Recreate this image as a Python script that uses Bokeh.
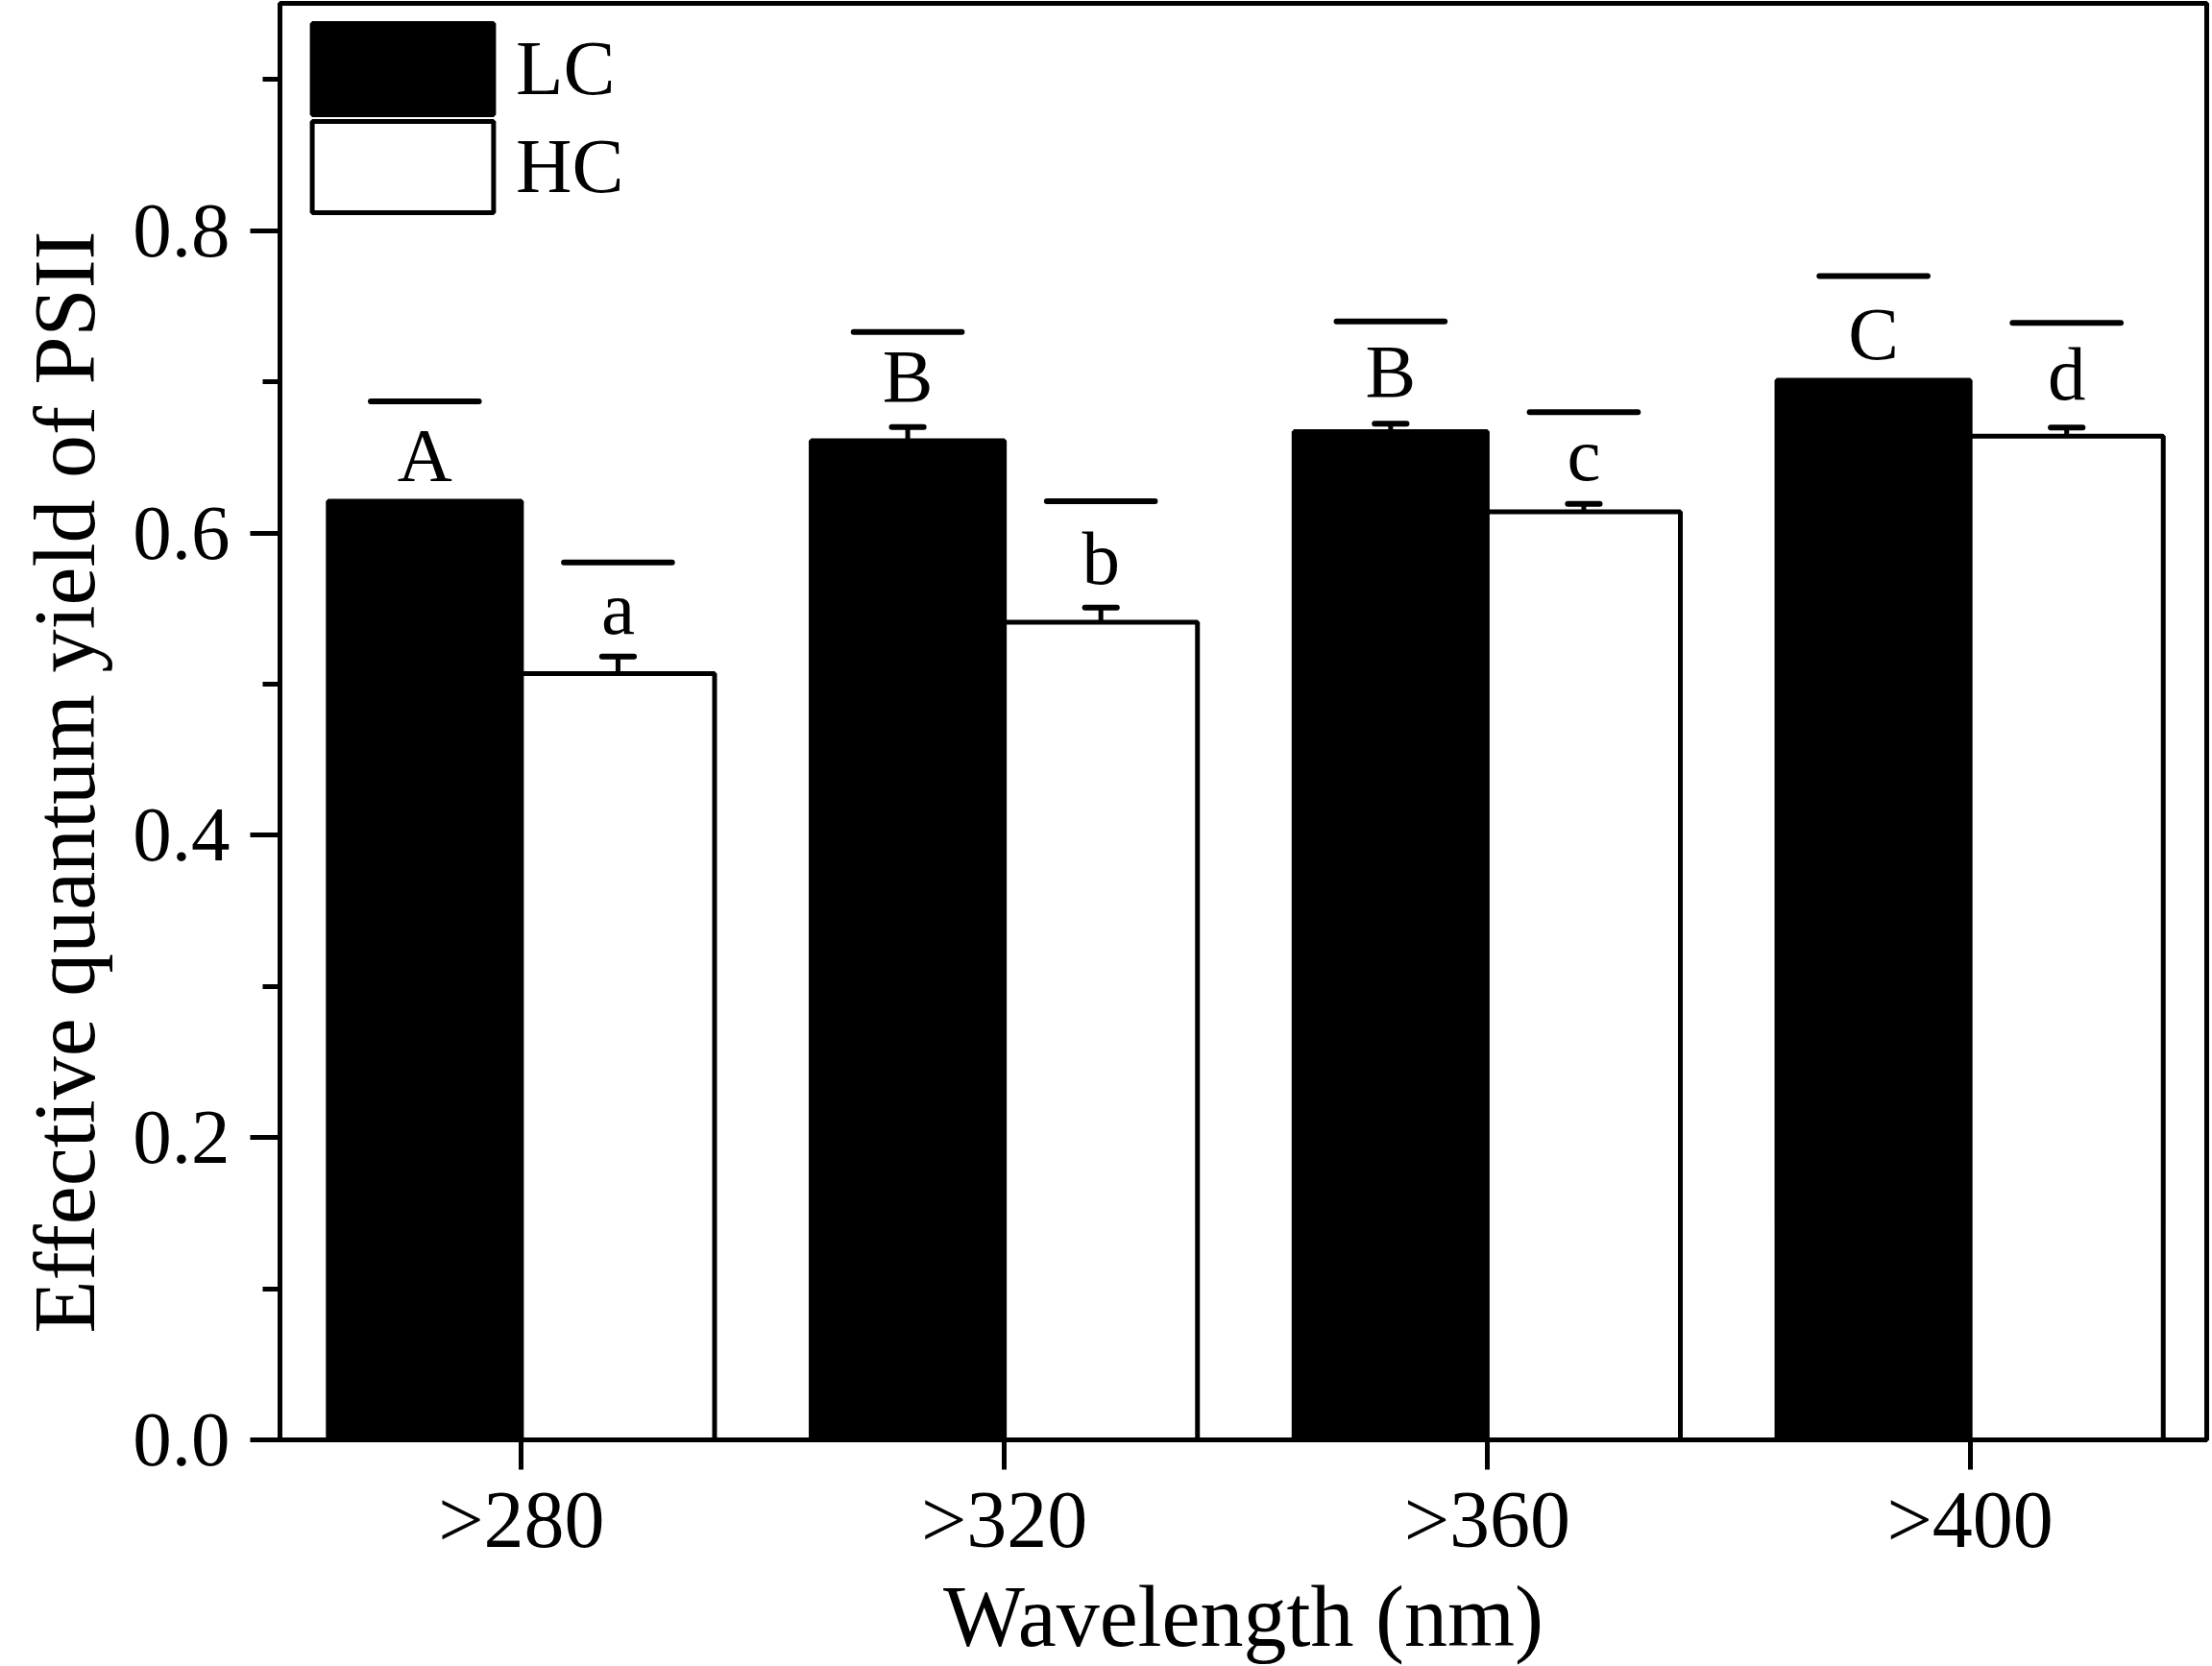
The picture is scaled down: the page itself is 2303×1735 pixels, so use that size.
from bokeh.plotting import figure
from bokeh.models import (ColumnDataSource, Range1d, FixedTicker, SingleIntervalTicker,
                          PrintfTickFormatter, Legend, LegendItem, Title)
from bokeh.embed import file_html
from bokeh.resources import INLINE
from bokeh.core.properties import value

# ---------------- data ----------------
categories = [">280", ">320", ">360", ">400"]
lc_values = [0.621, 0.661, 0.667, 0.701]
hc_values = [0.507, 0.541, 0.614, 0.664]
lc_errors = [0.0, 0.009, 0.0053, 0.0]
hc_errors = [0.0112, 0.0096, 0.0053, 0.0057]
lc_letters = ["A", "B", "B", "C"]
hc_letters = ["a", "b", "c", "d"]
lc_letter_y = [0.652, 0.704, 0.707, 0.732]
hc_letter_y = [0.550, 0.583, 0.652, 0.705]
lc_line_y = [0.687, 0.733, 0.740, 0.770]
hc_line_y = [0.5805, 0.621, 0.680, 0.739]

FONT = "Liberation Serif"
OFF = 0.2      # bar offset from group center
BW = 0.4       # bar width
HALF_LINE = 0.112
HALF_CAP = 0.033

idx = list(range(len(categories)))
lc_x = [i - OFF for i in idx]
hc_x = [i + OFF for i in idx]

p = figure(width=2303, height=1735, output_backend="svg", toolbar_location=None,
           x_range=Range1d(-0.5, 3.49), y_range=Range1d(0, 0.9504),
           min_border_left=289, min_border_right=6, min_border_top=3,
           min_border_bottom=234)
p.grid.visible = False
p.outline_line_color = "black"
p.outline_line_width = 5
p.background_fill_color = "white"
p.border_fill_color = "white"

lc_src = ColumnDataSource(dict(x=lc_x, top=lc_values))
hc_src = ColumnDataSource(dict(x=hc_x, top=hc_values))
r_lc = p.vbar(x="x", top="top", bottom=0, width=BW, source=lc_src,
              fill_color="black", line_color="black", line_width=5)
r_hc = p.vbar(x="x", top="top", bottom=0, width=BW, source=hc_src,
              fill_color="white", line_color="black", line_width=5)

# error bars (upper only)
ex, ey0, ey1 = [], [], []
for xs, vs, es in ((lc_x, lc_values, lc_errors), (hc_x, hc_values, hc_errors)):
    for x, v, e in zip(xs, vs, es):
        if e > 0:
            ex.append(x); ey0.append(v); ey1.append(v + e)
err_src = ColumnDataSource(dict(x=ex, y0=ey0, y1=ey1,
                                xl=[x - HALF_CAP for x in ex], xr=[x + HALF_CAP for x in ex]))
p.segment(x0="x", y0="y0", x1="x", y1="y1", source=err_src, line_color="black", line_width=5)
p.segment(x0="xl", y0="y1", x1="xr", y1="y1", source=err_src, line_color="black",
          line_width=6, line_cap="round")

# significance lines and letters
all_x = lc_x + hc_x
sig_src = ColumnDataSource(dict(x0=[x - HALF_LINE for x in all_x],
                                x1=[x + HALF_LINE for x in all_x],
                                y=lc_line_y + hc_line_y))
p.segment(x0="x0", y0="y", x1="x1", y1="y", source=sig_src, line_color="black",
          line_width=6, line_cap="round")
let_src = ColumnDataSource(dict(x=all_x, y=lc_letter_y + hc_letter_y,
                                t=lc_letters + hc_letters))
p.text(x="x", y="y", text="t", source=let_src, text_font=value(FONT),
       text_font_size=value("79px"), text_align="center", text_baseline="middle",
       text_color="black")

# axes
for ax in (p.xaxis[0], p.yaxis[0]):
    ax.axis_line_width = 5
    ax.axis_line_color = "black"
    ax.major_tick_line_width = 5
    ax.major_tick_out = 31
    ax.major_tick_in = 0
    ax.minor_tick_line_width = 5
    ax.minor_tick_out = 18
    ax.minor_tick_in = 0
    ax.major_label_text_font = FONT
    ax.major_label_text_color = "black"
    ax.major_label_text_line_height = 1.0

p.xaxis.ticker = FixedTicker(ticks=idx)
p.xaxis.major_label_overrides = {i: c for i, c in zip(idx, categories)}
p.xaxis.minor_tick_line_color = None
p.xaxis.major_label_text_font_size = "84px"
p.xaxis.major_label_standoff = 5
p.xaxis.axis_label = "Wavelength (nm)"
p.xaxis.axis_label_text_font = FONT
p.xaxis.axis_label_text_font_size = "90px"
p.xaxis.axis_label_text_font_style = "normal"
p.xaxis.axis_label_text_color = "black"
p.xaxis.axis_label_text_line_height = 1.0
p.xaxis.axis_label_standoff = 2

p.yaxis.ticker = SingleIntervalTicker(interval=0.2, num_minor_ticks=2)
p.yaxis.formatter = PrintfTickFormatter(format="%.1f")
p.yaxis.major_label_text_font_size = "81px"
p.yaxis.major_label_standoff = 21

ytitle = Title(text="Effective quantum yield of PSII", align="left", offset=111,
               vertical_align="top", standoff=34, text_font=FONT,
               text_font_size="90px", text_font_style="normal", text_color="black")
p.add_layout(ytitle, "left")

common = dict(margin=0, padding=0, spacing=0, glyph_width=236, glyph_height=119,
              label_standoff=0, label_text_font=FONT, label_text_font_size="81px",
              label_text_color="black", border_line_alpha=0, background_fill_alpha=0)
leg_lc = Legend(items=[LegendItem(label="LC", renderers=[r_lc])], location=(10, 1368), **common)
leg_hc = Legend(items=[LegendItem(label="HC", renderers=[r_hc])], location=(10, 1266), **common)
p.add_layout(leg_lc)
p.add_layout(leg_hc)

open("out.html", "w").write(file_html(p, INLINE))
